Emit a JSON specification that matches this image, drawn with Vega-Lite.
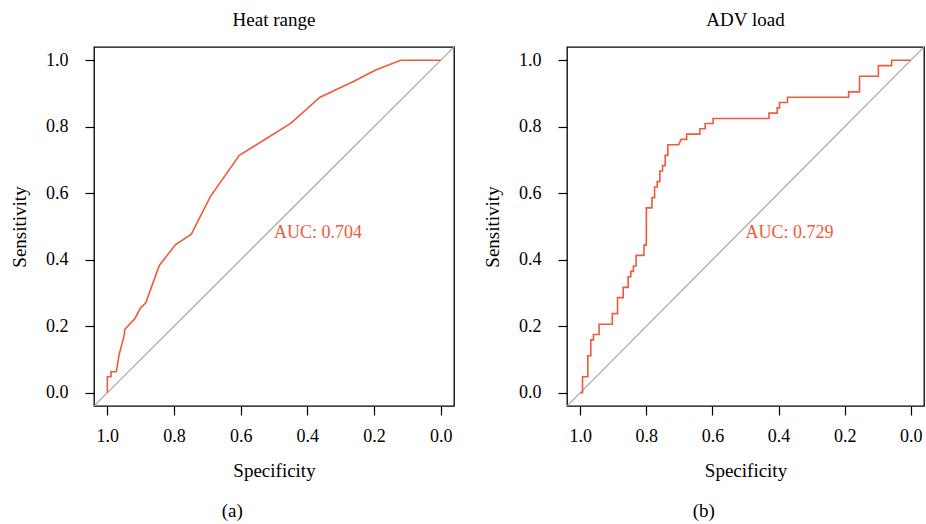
{
  "$schema": "https://vega.github.io/schema/vega-lite/v6.json",
  "padding": {"left": 9, "top": 10, "right": 0, "bottom": 0},
  "background": "white",
  "config": {
    "font": "Liberation Serif",
    "view": {"stroke": "black", "strokeWidth": 1.3},
    "axis": {
      "domain": false, "grid": false, "ticks": true, "tickColor": "black", "tickSize": 9, "tickWidth": 1.2,
      "labelFont": "Liberation Serif", "labelFontSize": 18, "labelColor": "black",
      "titleFont": "Liberation Serif", "titleFontSize": 19, "titleColor": "black", "titleFontWeight": "normal"
    },
    "axisX": {"labelPadding": 12, "titlePadding": 16},
    "axisY": {"labelPadding": 17, "titlePadding": 16},
    "title": {"font": "Liberation Serif", "fontSize": 19, "fontWeight": "normal", "color": "black"}
  },
  "datasets": {
    "a": [
      {"i": 1, "sp": 1.0, "se": 0}, {"i": 2, "sp": 1.0, "se": 0.048}, {"i": 3, "sp": 0.989, "se": 0.048},
      {"i": 4, "sp": 0.989, "se": 0.063}, {"i": 5, "sp": 0.973, "se": 0.063}, {"i": 6, "sp": 0.965, "se": 0.113},
      {"i": 7, "sp": 0.949, "se": 0.174}, {"i": 8, "sp": 0.948, "se": 0.19}, {"i": 9, "sp": 0.918, "se": 0.222},
      {"i": 10, "sp": 0.901, "se": 0.254}, {"i": 11, "sp": 0.885, "se": 0.27}, {"i": 12, "sp": 0.844, "se": 0.383},
      {"i": 13, "sp": 0.796, "se": 0.445}, {"i": 14, "sp": 0.748, "se": 0.477}, {"i": 15, "sp": 0.691, "se": 0.59},
      {"i": 16, "sp": 0.604, "se": 0.714}, {"i": 17, "sp": 0.45, "se": 0.81}, {"i": 18, "sp": 0.362, "se": 0.889},
      {"i": 19, "sp": 0.26, "se": 0.937}, {"i": 20, "sp": 0.195, "se": 0.971}, {"i": 21, "sp": 0.12, "se": 1.0},
      {"i": 22, "sp": 0.0, "se": 1.0}
    ],
    "b": [
      {"i": 1, "sp": 1.0, "se": 0}, {"i": 2, "sp": 0.993, "se": 0}, {"i": 3, "sp": 0.993, "se": 0.048},
      {"i": 4, "sp": 0.977, "se": 0.048}, {"i": 5, "sp": 0.977, "se": 0.111}, {"i": 6, "sp": 0.968, "se": 0.111},
      {"i": 7, "sp": 0.968, "se": 0.159}, {"i": 8, "sp": 0.96, "se": 0.159}, {"i": 9, "sp": 0.96, "se": 0.175},
      {"i": 10, "sp": 0.943, "se": 0.175}, {"i": 11, "sp": 0.943, "se": 0.206}, {"i": 12, "sp": 0.903, "se": 0.206},
      {"i": 13, "sp": 0.903, "se": 0.238}, {"i": 14, "sp": 0.887, "se": 0.238}, {"i": 15, "sp": 0.887, "se": 0.286},
      {"i": 16, "sp": 0.87, "se": 0.286}, {"i": 17, "sp": 0.87, "se": 0.317}, {"i": 18, "sp": 0.855, "se": 0.317},
      {"i": 19, "sp": 0.855, "se": 0.349}, {"i": 20, "sp": 0.847, "se": 0.349}, {"i": 21, "sp": 0.847, "se": 0.365},
      {"i": 22, "sp": 0.839, "se": 0.365}, {"i": 23, "sp": 0.839, "se": 0.381}, {"i": 24, "sp": 0.831, "se": 0.381},
      {"i": 25, "sp": 0.831, "se": 0.413}, {"i": 26, "sp": 0.807, "se": 0.413}, {"i": 27, "sp": 0.807, "se": 0.444},
      {"i": 28, "sp": 0.8, "se": 0.444}, {"i": 29, "sp": 0.8, "se": 0.556}, {"i": 30, "sp": 0.783, "se": 0.556},
      {"i": 31, "sp": 0.783, "se": 0.587}, {"i": 32, "sp": 0.775, "se": 0.587}, {"i": 33, "sp": 0.775, "se": 0.619},
      {"i": 34, "sp": 0.767, "se": 0.619}, {"i": 35, "sp": 0.767, "se": 0.635}, {"i": 36, "sp": 0.759, "se": 0.635},
      {"i": 37, "sp": 0.759, "se": 0.667}, {"i": 38, "sp": 0.751, "se": 0.667}, {"i": 39, "sp": 0.751, "se": 0.683},
      {"i": 40, "sp": 0.743, "se": 0.683}, {"i": 41, "sp": 0.743, "se": 0.714}, {"i": 42, "sp": 0.735, "se": 0.714},
      {"i": 43, "sp": 0.735, "se": 0.746}, {"i": 44, "sp": 0.702, "se": 0.746}, {"i": 45, "sp": 0.695, "se": 0.762},
      {"i": 46, "sp": 0.678, "se": 0.762}, {"i": 47, "sp": 0.678, "se": 0.778}, {"i": 48, "sp": 0.638, "se": 0.778},
      {"i": 49, "sp": 0.638, "se": 0.794}, {"i": 50, "sp": 0.622, "se": 0.794}, {"i": 51, "sp": 0.622, "se": 0.81},
      {"i": 52, "sp": 0.598, "se": 0.81}, {"i": 53, "sp": 0.598, "se": 0.825}, {"i": 54, "sp": 0.429, "se": 0.825},
      {"i": 55, "sp": 0.429, "se": 0.841}, {"i": 56, "sp": 0.404, "se": 0.841}, {"i": 57, "sp": 0.404, "se": 0.857},
      {"i": 58, "sp": 0.397, "se": 0.857}, {"i": 59, "sp": 0.397, "se": 0.873}, {"i": 60, "sp": 0.373, "se": 0.873},
      {"i": 61, "sp": 0.373, "se": 0.889}, {"i": 62, "sp": 0.188, "se": 0.889}, {"i": 63, "sp": 0.188, "se": 0.905},
      {"i": 64, "sp": 0.155, "se": 0.905}, {"i": 65, "sp": 0.155, "se": 0.952}, {"i": 66, "sp": 0.098, "se": 0.952},
      {"i": 67, "sp": 0.098, "se": 0.984}, {"i": 68, "sp": 0.058, "se": 0.984}, {"i": 69, "sp": 0.058, "se": 1.0},
      {"i": 70, "sp": 0.0, "se": 1.0}
    ],
    "diag": [{"i": 1, "sp": 1.04, "se": -0.04}, {"i": 2, "sp": -0.04, "se": 1.04}],
    "aucA": [{"sp": 0.5, "se": 0.48, "label": "AUC: 0.704"}],
    "aucB": [{"sp": 0.5, "se": 0.48, "label": "AUC: 0.729"}]
  },
  "spacing": 27,
  "hconcat": [
    {
      "title": {"text": "(a)", "orient": "bottom", "frame": "bounds", "anchor": "middle", "offset": 21},
      "vconcat": [
        {
          "width": 360, "height": 359,
          "title": {"text": "Heat range", "frame": "group", "anchor": "middle", "offset": 17},
          "encoding": {
            "x": {"field": "sp", "type": "quantitative", "title": "Specificity",
                  "scale": {"domain": [-0.04, 1.04], "reverse": true, "nice": false, "zero": false},
                  "axis": {"values": [0, 0.2, 0.4, 0.6, 0.8, 1.0], "format": ".1f"}},
            "y": {"field": "se", "type": "quantitative", "title": "Sensitivity",
                  "scale": {"domain": [-0.04, 1.04], "nice": false, "zero": false},
                  "axis": {"values": [0, 0.2, 0.4, 0.6, 0.8, 1.0], "format": ".1f"}}
          },
          "layer": [
            {"data": {"name": "diag"}, "mark": {"type": "line", "color": "#A6A6A6", "strokeWidth": 1.2, "clip": true},
             "encoding": {"order": {"field": "i", "type": "quantitative"}}},
            {"data": {"name": "a"}, "mark": {"type": "line", "color": "#F05A3C", "strokeWidth": 1.6},
             "encoding": {"order": {"field": "i", "type": "quantitative"}}},
            {"data": {"name": "aucA"}, "mark": {"type": "text", "align": "left", "baseline": "middle", "fontSize": 18, "color": "#F05A3C", "font": "Liberation Serif"},
             "encoding": {"text": {"field": "label"}}}
          ]
        }
      ]
    },
    {
      "title": {"text": "(b)", "orient": "bottom", "frame": "bounds", "anchor": "middle", "offset": 21},
      "vconcat": [
        {
          "width": 357, "height": 359,
          "title": {"text": "ADV load", "frame": "group", "anchor": "middle", "offset": 17},
          "encoding": {
            "x": {"field": "sp", "type": "quantitative", "title": "Specificity",
                  "scale": {"domain": [-0.04, 1.04], "reverse": true, "nice": false, "zero": false},
                  "axis": {"values": [0, 0.2, 0.4, 0.6, 0.8, 1.0], "format": ".1f"}},
            "y": {"field": "se", "type": "quantitative", "title": "Sensitivity",
                  "scale": {"domain": [-0.04, 1.04], "nice": false, "zero": false},
                  "axis": {"values": [0, 0.2, 0.4, 0.6, 0.8, 1.0], "format": ".1f"}}
          },
          "layer": [
            {"data": {"name": "diag"}, "mark": {"type": "line", "color": "#A6A6A6", "strokeWidth": 1.2, "clip": true},
             "encoding": {"order": {"field": "i", "type": "quantitative"}}},
            {"data": {"name": "b"}, "mark": {"type": "line", "color": "#F05A3C", "strokeWidth": 1.6},
             "encoding": {"order": {"field": "i", "type": "quantitative"}}},
            {"data": {"name": "aucB"}, "mark": {"type": "text", "align": "left", "baseline": "middle", "fontSize": 18, "color": "#F05A3C", "font": "Liberation Serif"},
             "encoding": {"text": {"field": "label"}}}
          ]
        }
      ]
    }
  ]
}
